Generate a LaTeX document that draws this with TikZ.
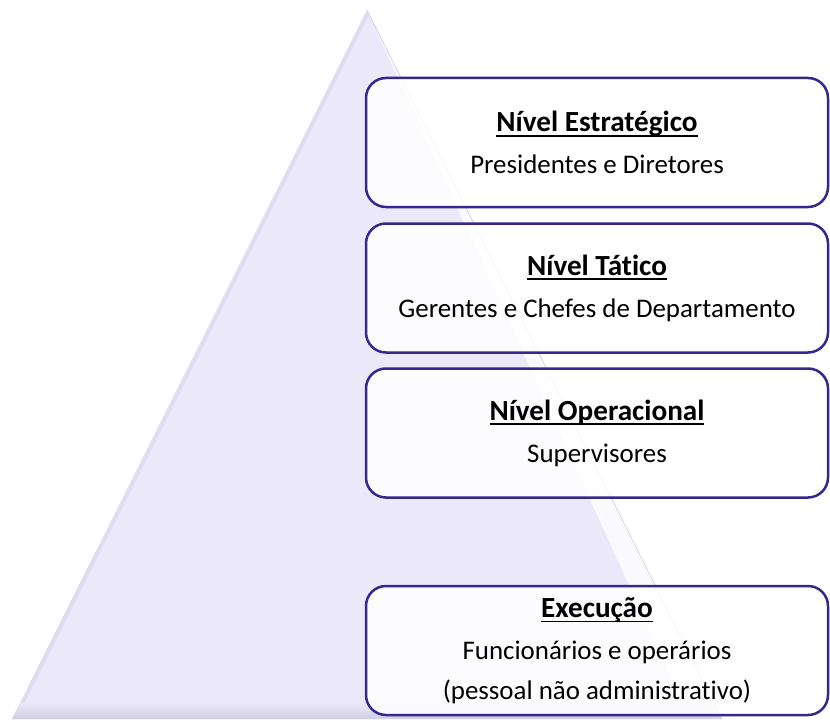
\documentclass[tikz,border=0pt]{standalone}
\usepackage{fontspec}
\setmainfont{Carlito}[Ligatures=NoCommon]
\usetikzlibrary{positioning}

\definecolor{lavanda}{RGB}{235,232,250}
\definecolor{facelight}{RGB}{250,250,254}
\definecolor{aresta}{RGB}{218,215,238}
\definecolor{borda}{RGB}{52,40,140}

% sublinhado estilo processador de texto
\newcommand\sublinha[1]{\setbox0\hbox{#1}\rlap{\rule[-5bp]{\wd0}{1.8bp}}\box0}

\begin{document}
\begin{tikzpicture}[x=1bp,y=-1bp,
    nivel/.style={draw=borda,line width=2.5bp,rounded corners=20bp,fill=white,fill opacity=0.85,text opacity=1,
                  minimum width=462bp,minimum height=129bp,align=center,font=\fontsize{27}{40}\selectfont}]
\useasboundingbox (0,0) rectangle (830,724);

% piramide
\fill[lavanda] (367,10) -- (12,719) -- (722,719) -- cycle;
\fill[facelight] (367,10) -- (690,719) -- (722,719) -- cycle;
\begin{scope}
  \clip (367,10) -- (12,719) -- (722,719) -- cycle;
  \draw[aresta,line width=8bp,opacity=0.7] (367,10) -- (12,719);
  \shade[top color=lavanda,bottom color=aresta!90!gray] (0,703) rectangle (830,719);
\end{scope}
\draw[aresta,line width=1bp] (367,10) -- (722,719);

% niveis
\foreach \y/\t/\s [count=\n] in {142.5/N\'ivel Estrat\'egico/Presidentes e Diretores,
                                 288/N\'ivel T\'atico/Gerentes e Chefes de Departamento,
                                 433/N\'ivel Operacional/Supervisores,
                                 650.5/Execução/{Funcionários e operários\\(pessoal não administrativo)}}
  \node[nivel] (L\n) at (597,\y) {{\fontsize{29.3}{40}\selectfont\bfseries\sublinha{\t}}\\[2bp] \s};
\end{tikzpicture}
\end{document}
